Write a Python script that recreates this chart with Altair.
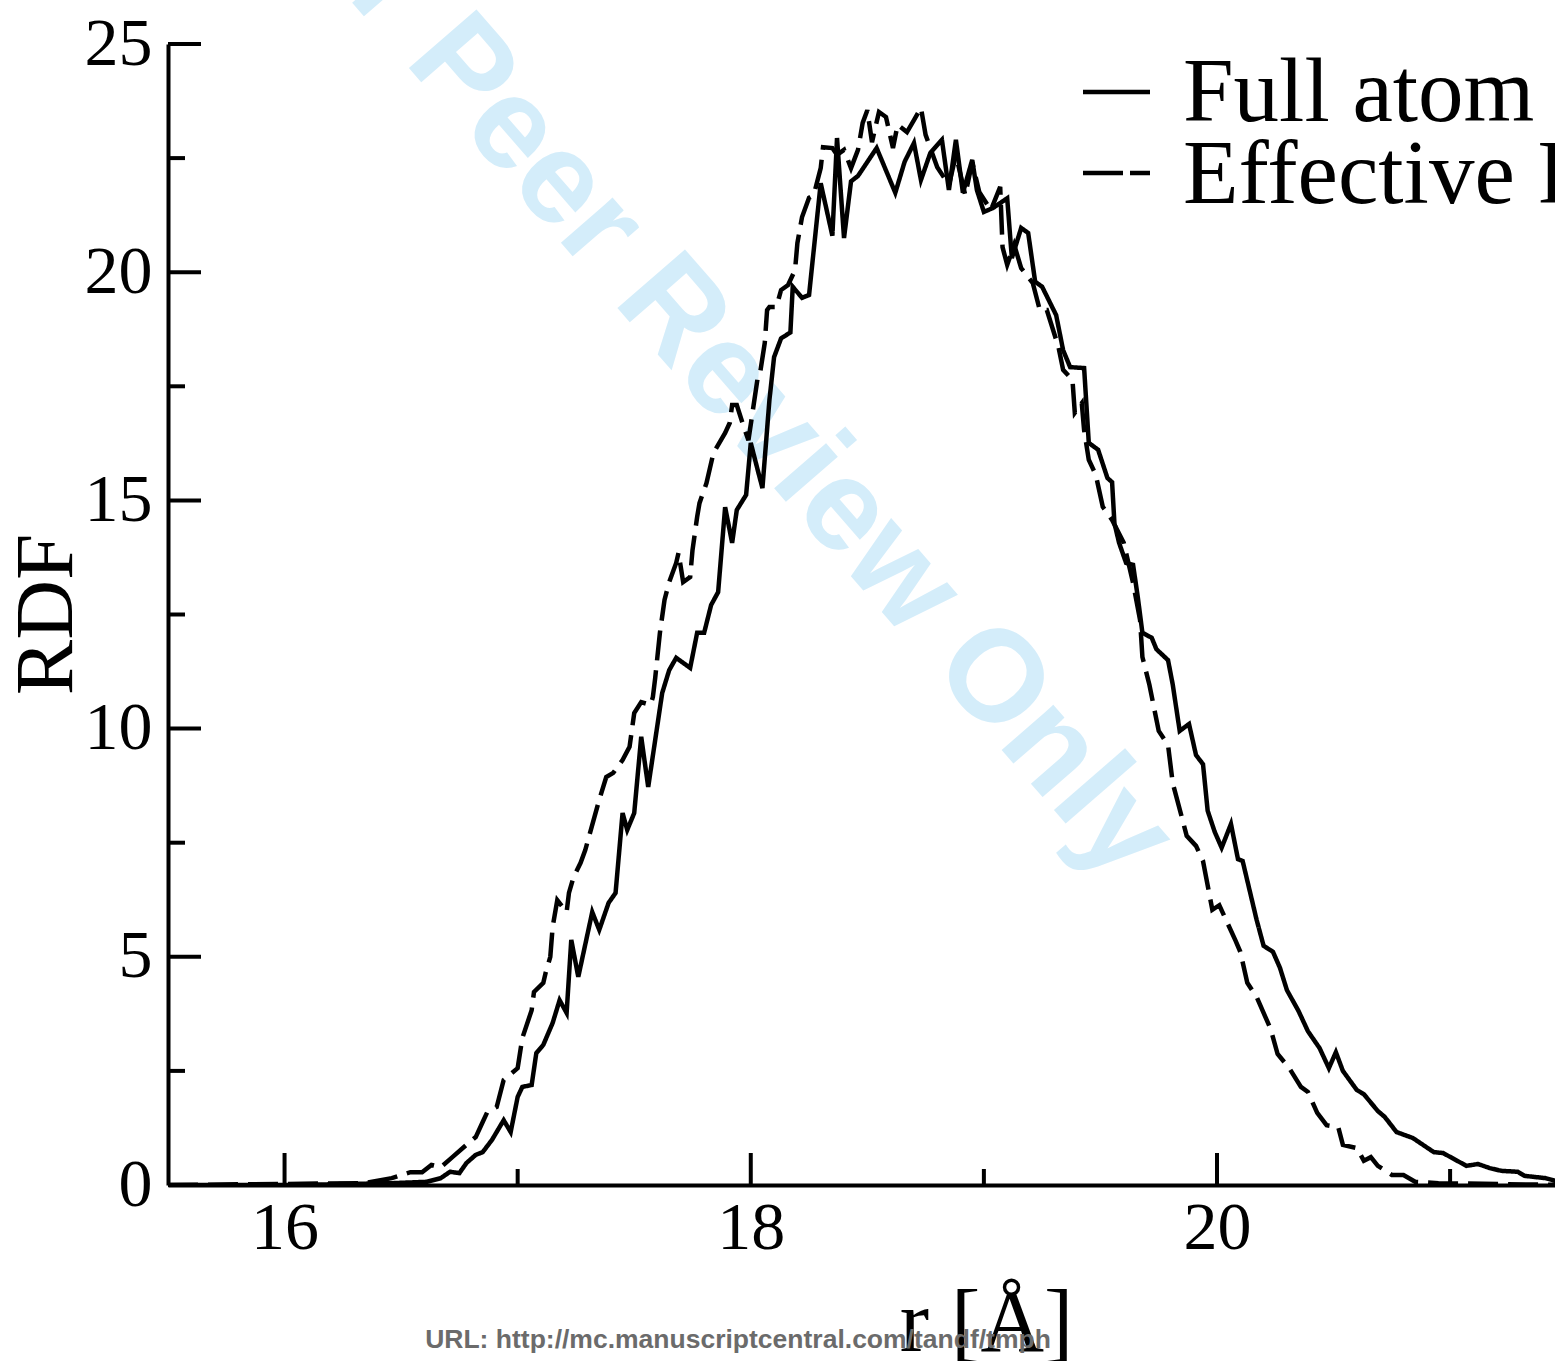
import altair as alt
import pandas as pd

# ---- data (r in Angstrom, RDF value) ----
full_r = [15.50, 16.06, 16.24, 16.46, 16.61, 16.67, 16.71, 16.75, 16.78, 16.82,
          16.85, 16.89, 16.94, 16.97, 17.00, 17.02, 17.06, 17.08, 17.11, 17.15,
          17.18, 17.21, 17.23, 17.26, 17.32, 17.35, 17.39, 17.42, 17.45, 17.47,
          17.50, 17.53, 17.56, 17.62, 17.65, 17.68, 17.74, 17.77, 17.80, 17.83,
          17.86, 17.89, 17.92, 17.94, 17.98, 18.00, 18.03, 18.05, 18.08, 18.10,
          18.13, 18.17, 18.18, 18.22, 18.25, 18.30, 18.35, 18.37, 18.40, 18.43,
          18.46, 18.54, 18.62, 18.66, 18.70, 18.73, 18.77, 18.82, 18.85, 18.88,
          18.91, 18.95, 18.97, 19.00, 19.04, 19.10, 19.12, 19.16, 19.19, 19.22,
          19.25, 19.31, 19.34, 19.37, 19.43, 19.45, 19.49, 19.53, 19.55, 19.56,
          19.58, 19.61, 19.64, 19.66, 19.68, 19.72, 19.74, 19.79, 19.81, 19.84,
          19.88, 19.91, 19.94, 19.96, 19.99, 20.02, 20.06, 20.09, 20.11, 20.17,
          20.20, 20.24, 20.27, 20.30, 20.35, 20.39, 20.44, 20.48, 20.51, 20.54,
          20.60, 20.63, 20.69, 20.72, 20.77, 20.84, 20.93, 20.97, 21.07, 21.12,
          21.17, 21.22, 21.29, 21.32, 21.41, 21.50]
full_g = [0.00, 0.00, 0.02, 0.04, 0.07, 0.15, 0.29, 0.26, 0.48, 0.66,
          0.72, 0.99, 1.42, 1.16, 1.93, 2.15, 2.19, 2.89, 3.07, 3.55,
          4.05, 3.77, 5.37, 4.56, 5.98, 5.59, 6.18, 6.40, 8.15, 7.78,
          8.15, 9.82, 8.72, 10.78, 11.28, 11.55, 11.33, 12.10, 12.10, 12.71,
          12.99, 14.85, 14.07, 14.79, 15.12, 16.26, 15.66, 15.27, 17.20, 18.14,
          18.55, 18.68, 19.68, 19.44, 19.50, 21.95, 20.80, 22.94, 20.75, 21.99,
          22.11, 22.72, 21.74, 22.42, 22.83, 22.02, 22.61, 22.90, 21.80, 22.90,
          21.74, 22.46, 21.80, 21.32, 21.41, 21.62, 20.31, 20.97, 20.86, 19.79,
          19.68, 19.06, 18.29, 17.92, 17.90, 16.26, 16.11, 15.49, 15.40, 14.50,
          14.07, 13.63, 13.59, 12.89, 12.10, 11.99, 11.74, 11.50, 10.97, 9.95,
          10.10, 9.42, 9.22, 8.20, 7.74, 7.39, 7.91, 7.14, 7.10, 5.81,
          5.24, 5.11, 4.76, 4.27, 3.81, 3.37, 3.00, 2.56, 2.91, 2.50,
          2.08, 1.99, 1.62, 1.49, 1.16, 1.03, 0.72, 0.70, 0.42, 0.46,
          0.37, 0.31, 0.29, 0.20, 0.15, 0.02]

eff_r = [15.50, 16.34, 16.46, 16.54, 16.59, 16.63, 16.67, 16.72, 16.78, 16.82,
         16.85, 16.87, 16.91, 16.94, 17.00, 17.02, 17.06, 17.07, 17.11, 17.12,
         17.14, 17.15, 17.17, 17.21, 17.22, 17.24, 17.27, 17.29, 17.35, 17.38,
         17.41, 17.45, 17.48, 17.49, 17.50, 17.53, 17.57, 17.58, 17.59, 17.61,
         17.63, 17.65, 17.68, 17.69, 17.71, 17.74, 17.75, 17.77, 17.78, 17.81,
         17.84, 17.89, 17.91, 17.92, 17.94, 17.97, 17.99, 18.03, 18.04, 18.06,
         18.07, 18.08, 18.11, 18.13, 18.16, 18.19, 18.20, 18.22, 18.25, 18.27,
         18.30, 18.31, 18.35, 18.37, 18.40, 18.43, 18.46, 18.48, 18.50, 18.52,
         18.55, 18.58, 18.61, 18.63, 18.67, 18.70, 18.73, 18.75, 18.80, 18.85,
         18.88, 18.92, 18.95, 18.98, 19.03, 19.07, 19.08, 19.10, 19.13, 19.16,
         19.21, 19.24, 19.27, 19.32, 19.34, 19.38, 19.39, 19.42, 19.43, 19.45,
         19.48, 19.51, 19.55, 19.60, 19.64, 19.67, 19.68, 19.71, 19.75, 19.79,
         19.81, 19.85, 19.87, 19.91, 19.94, 19.98, 20.01, 20.08, 20.10, 20.13,
         20.17, 20.23, 20.26, 20.31, 20.36, 20.39, 20.43, 20.47, 20.52, 20.54,
         20.60, 20.63, 20.66, 20.69, 20.75, 20.80, 20.85, 20.95, 21.50]
eff_g = [0.00, 0.04, 0.15, 0.28, 0.28, 0.44, 0.39, 0.61, 0.88, 1.05,
         1.38, 1.60, 1.71, 2.30, 2.56, 3.22, 3.83, 4.23, 4.43, 4.65,
         5.00, 5.65, 6.24, 5.98, 6.40, 6.75, 7.06, 7.34, 8.44, 8.94,
         9.03, 9.31, 9.60, 9.97, 10.34, 10.58, 10.52, 10.69, 11.11, 12.09,
         12.82, 13.21, 13.63, 13.85, 13.21, 13.32, 13.91, 14.64, 14.94, 15.38,
         16.04, 16.48, 16.70, 17.09, 17.09, 16.61, 16.32, 17.70, 17.79, 18.45,
         19.17, 19.24, 19.24, 19.61, 19.72, 20.05, 20.64, 21.21, 21.63, 21.69,
         22.28, 22.74, 22.72, 22.57, 22.68, 22.28, 22.68, 23.27, 23.55, 22.85,
         23.51, 23.40, 22.72, 23.23, 23.07, 23.33, 23.60, 23.01, 22.30, 21.91,
         22.57, 21.69, 22.41, 21.76, 21.36, 21.87, 20.55, 20.16, 20.60, 20.09,
         19.76, 19.17, 19.17, 18.36, 17.86, 17.64, 16.92, 17.13, 16.54, 15.89,
         15.56, 14.86, 14.57, 14.07, 13.19, 12.38, 11.57, 10.96, 9.95, 9.64,
         8.81, 8.04, 7.65, 7.43, 7.10, 6.03, 6.13, 5.35, 5.11, 4.43,
         4.12, 3.42, 2.87, 2.56, 2.15, 2.04, 1.58, 1.31, 1.27, 0.88,
         0.81, 0.53, 0.61, 0.42, 0.22, 0.22, 0.07, 0.04, 0.00]

series_names = ["Full atom", "Effective Potential"]
x_major = [16, 18, 20]
x_minor = [17, 19, 21]
y_major = [0, 5, 10, 15, 20, 25]
y_minor = [2.5, 7.5, 12.5, 17.5, 22.5]
watermark_text = ["For Peer Review Only"]
footer_text = ["URL: http://mc.manuscriptcentral.com/tandf/tmph"]

df = pd.concat([
    pd.DataFrame({"r": full_r, "g": full_g, "series": series_names[0],
                  "idx": list(range(len(full_r)))}),
    pd.DataFrame({"r": eff_r, "g": eff_g, "series": series_names[1],
                  "idx": list(range(len(eff_r)))}),
], ignore_index=True)

W, H = 1387, 1141
SERIF = "Liberation Serif"
DASH_FULL = [1, 0]
DASH_EFF = [30, 10]

xscale = alt.Scale(domain=[15.5, 21.45], nice=False, zero=False)
yscale = alt.Scale(domain=[0, 25], nice=False, zero=False)

xaxis = alt.Axis(
    title="r [Å]", values=x_major, format="d", ticks=False, grid=False,
    domainWidth=4, domainColor="black", labelFont=SERIF, labelFontSize=68,
    labelColor="black", labelPadding=9, labelFlush=False, labelOverlap=False,
    titleFont=SERIF, titleFontSize=88, titleFontWeight="normal", titleColor="black",
    titleX=818, titleY=165, titleBaseline="alphabetic", titleAlign="center",
)
yaxis = alt.Axis(
    title="RDF", values=y_major, format="d", ticks=False, grid=False,
    domainWidth=4, domainColor="black", labelFont=SERIF, labelFontSize=68,
    labelColor="black", labelPadding=16, labelFlush=False, labelOverlap=False,
    titleFont=SERIF, titleFontSize=83, titleFontWeight="normal", titleColor="black",
    titleX=-97, titleY=570, titleAngle=270, titleBaseline="alphabetic",
    titleAlign="center",
)

X = alt.X("r:Q", scale=xscale, axis=xaxis)
Y = alt.Y("g:Q", scale=yscale, axis=yaxis)

watermark = alt.Chart(pd.DataFrame({"t": watermark_text})).mark_text(
    font="Liberation Sans", fontWeight="bold", fontSize=130, color="#d4edfa",
    angle=49, align="center", baseline="middle",
).encode(text="t:N", x=alt.value(542), y=alt.value(311))

lines = alt.Chart(df).mark_line(
    color="black", strokeWidth=4.5, clip=True, strokeJoin="miter",
).encode(
    x=X, y=Y, order="idx:Q",
    strokeDash=alt.StrokeDash(
        "series:N",
        scale=alt.Scale(domain=series_names, range=[DASH_FULL, DASH_EFF]),
        legend=None,
    ),
)

# legend drawn in the upper right, as in the reference (clipped at the right edge)
def legend_row(name, dash, y_line, y_text):
    sample = alt.Chart(pd.DataFrame({"t": [name]})).mark_rule(
        color="black", strokeWidth=4.5, strokeDash=dash,
    ).encode(x=alt.value(915), x2=alt.value(982), y=alt.value(y_line))
    label = alt.Chart(pd.DataFrame({"t": [name]})).mark_text(
        font=SERIF, fontSize=91, color="black", align="left",
        baseline="alphabetic", clip=True,
    ).encode(text="t:N", x=alt.value(1015), y=alt.value(y_text))
    return sample + label

legend1 = legend_row(series_names[0], DASH_FULL, 48, 77)
legend2 = legend_row(series_names[1], [40, 7], 129, 159)

ytick_major = alt.Chart(pd.DataFrame({"g": y_major})).mark_rule(
    color="black", strokeWidth=4).encode(y=Y, x=alt.value(0), x2=alt.value(33))
ytick_minor = alt.Chart(pd.DataFrame({"g": y_minor})).mark_rule(
    color="black", strokeWidth=4).encode(y=Y, x=alt.value(0), x2=alt.value(17))
xtick_major = alt.Chart(pd.DataFrame({"r": x_major})).mark_rule(
    color="black", strokeWidth=4).encode(x=X, y=alt.value(H), y2=alt.value(H - 32))
xtick_minor = alt.Chart(pd.DataFrame({"r": x_minor})).mark_rule(
    color="black", strokeWidth=4).encode(x=X, y=alt.value(H), y2=alt.value(H - 16))

footer = alt.Chart(pd.DataFrame({"t": footer_text})).mark_text(
    font="Liberation Sans", fontWeight="bold", fontSize=26.5, color="#6b6b6b",
    align="center", baseline="alphabetic",
).encode(text="t:N", x=alt.value(570), y=alt.value(1304))

chart = alt.layer(
    watermark, lines, legend1, legend2,
    ytick_major, ytick_minor, xtick_major, xtick_minor, footer
).properties(
    width=W, height=H,
    padding={"left": 168, "top": 44, "right": 0, "bottom": 176},
    autosize=alt.AutoSizeParams(type="none"),
).configure_view(stroke=None)

chart.save("out.html", embed_options={"renderer": "svg", "actions": False})
